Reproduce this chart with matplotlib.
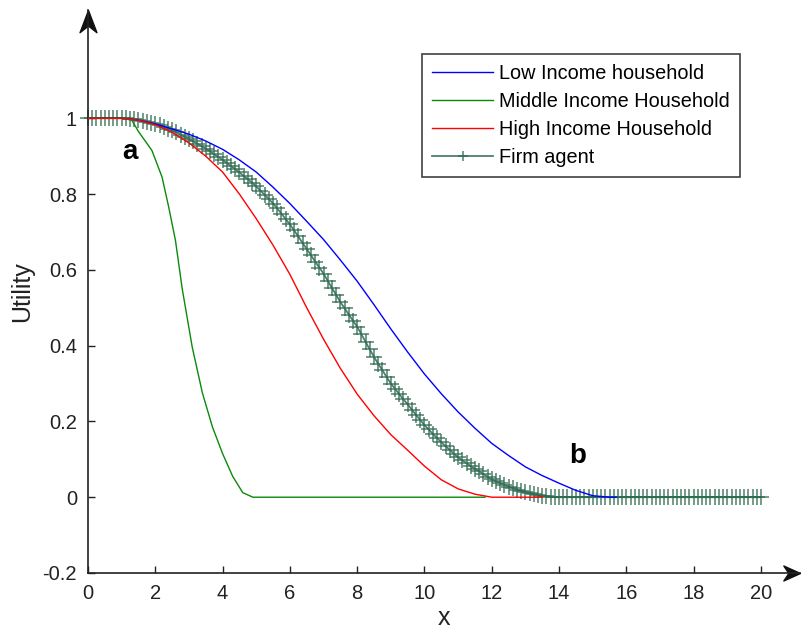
import numpy as np
import matplotlib

matplotlib.use("Agg")
import matplotlib.pyplot as plt

plt.rcParams["font.family"] = ["Liberation Sans", "DejaVu Sans"]

# ---- data -----------------------------------------------------------------
# Low income household (blue)
low_x = [0, 0.5, 1.0, 1.5, 2.0, 2.5, 3.0, 3.5, 4.0, 4.5, 5.0, 5.5, 6.0, 6.5,
         7.0, 7.5, 8.0, 8.5, 9.0, 9.5, 10.0, 10.5, 11.0, 11.5, 12.0, 12.5,
         13.0, 13.5, 14.0, 14.5, 15.0, 15.5, 15.7]
low_y = [1.0, 1.0, 1.0, 0.995, 0.985, 0.972, 0.958, 0.940, 0.918, 0.890,
         0.858, 0.818, 0.775, 0.728, 0.680, 0.626, 0.570, 0.508, 0.444,
         0.383, 0.325, 0.273, 0.225, 0.182, 0.142, 0.110, 0.080, 0.057,
         0.037, 0.018, 0.004, 0.0, 0.0]

# Middle income household (green)
mid_x = [0, 0.5, 1.0, 1.3, 1.5, 1.9, 2.2, 2.4, 2.6, 2.8, 3.1, 3.4, 3.7,
         4.0, 4.3, 4.6, 4.9, 6.0, 8.0, 10.0, 11.8]
mid_y = [1.0, 1.0, 1.0, 0.995, 0.965, 0.915, 0.845, 0.765, 0.677, 0.550,
         0.395, 0.275, 0.185, 0.115, 0.055, 0.012, 0.0, 0.0, 0.0, 0.0, 0.0]

# High income household (red)
high_x = [0, 0.5, 1.0, 1.5, 2.0, 2.5, 3.0, 3.5, 4.0, 4.5, 5.0, 5.5, 6.0,
          6.5, 7.0, 7.5, 8.0, 8.5, 9.0, 9.5, 10.0, 10.5, 11.0, 11.5, 12.0,
          12.5, 13.0, 13.5]
high_y = [1.0, 1.0, 1.0, 0.995, 0.983, 0.963, 0.935, 0.900, 0.858, 0.800,
          0.735, 0.665, 0.588, 0.500, 0.417, 0.340, 0.272, 0.215, 0.165,
          0.124, 0.082, 0.046, 0.022, 0.008, 0.0, 0.0, 0.0, 0.0]

# Firm agent (markers every 0.125 in x)
firm_x = np.arange(161) * 0.125
firm_y = [1.0, 1.0, 1.0, 1.0,
          1.0, 1.0, 1.0, 1.0,
          1.0, 1.0, 0.999, 0.998,
          0.996, 0.994, 0.991, 0.988,
          0.985, 0.981, 0.977, 0.973,
          0.968, 0.963, 0.957, 0.951,
          0.945, 0.939, 0.933, 0.926,
          0.920, 0.913, 0.905, 0.898,
          0.890, 0.882, 0.874, 0.866,
          0.857, 0.848, 0.839, 0.830,
          0.820, 0.809, 0.798, 0.787,
          0.775, 0.762, 0.748, 0.734,
          0.720, 0.704, 0.688, 0.671,
          0.655, 0.639, 0.622, 0.606,
          0.590, 0.571, 0.552, 0.534,
          0.515, 0.499, 0.482, 0.466,
          0.450, 0.430, 0.410, 0.390,
          0.370, 0.352, 0.335, 0.317,
          0.300, 0.286, 0.272, 0.258,
          0.245, 0.231, 0.217, 0.204,
          0.190, 0.179, 0.167, 0.156,
          0.145, 0.135, 0.125, 0.115,
          0.105, 0.097, 0.090, 0.082,
          0.075, 0.068, 0.061, 0.054,
          0.047, 0.042, 0.037, 0.033,
          0.028, 0.024, 0.020, 0.017,
          0.013, 0.010, 0.008, 0.006,
          0.004, 0.002, 0.001, 0.0] + [0.0] * 49

labels = ["Low Income household", "Middle Income Household",
          "High Income Household", "Firm agent"]
xticks = [0, 2, 4, 6, 8, 10, 12, 14, 16, 18, 20]
yticks = [-0.2, 0, 0.2, 0.4, 0.6, 0.8, 1]
ytick_labels = ["-0.2", "0", "0.2", "0.4", "0.6", "0.8", "1"]

# ---- figure ---------------------------------------------------------------
W, H = 801, 633
fig = plt.figure(figsize=(W / 100, H / 100), dpi=100)
ax = fig.add_axes([88 / W, (H - 573) / H, (800 - 88) / W, (573 - 10) / H])

FIRM = "#2f6a52"
ax.plot(firm_x, firm_y, color=FIRM, lw=1.3, marker="+", ms=12, mew=1.1,
        alpha=0.85, label=labels[3], clip_on=False, zorder=2)
ax.plot(low_x, low_y, color="#0000ff", lw=1.0, label=labels[0], zorder=3)
ax.plot(mid_x, mid_y, color="#0a8a0a", lw=1.0, label=labels[1], zorder=3)
ax.plot(high_x, high_y, color="#ff0000", lw=1.0, label=labels[2], zorder=3)

ax.set_xlim(0, 21.16)
ax.set_ylim(-0.2, 1.0 + 108 / 378)

ax.spines["top"].set_visible(False)
ax.spines["right"].set_visible(False)
for s in ("left", "bottom"):
    ax.spines[s].set_color("#222222")
    ax.spines[s].set_linewidth(1.2)

ax.set_xticks(xticks)
ax.set_xticklabels([str(t) for t in xticks])
ax.set_yticks(yticks)
ax.set_yticklabels(ytick_labels)
ax.tick_params(direction="in", length=5, width=1, colors="#222222",
               labelsize=14.5, labelcolor="#222222", pad=8)

ax.set_xlabel("x", fontsize=18, color="#222222", labelpad=2)
ax.set_ylabel("Utility", fontsize=18, color="#222222", labelpad=6)

# axis arrowheads
up = [(0, 0), (-0.38, -1), (0, -0.7), (0.38, -1), (0, 0)]
right = [(0, 0), (-1, 0.45), (-0.7, 0), (-1, -0.45), (0, 0)]
ax.plot([0], [1], marker=up, ms=32, color="#111111", transform=ax.transAxes,
        clip_on=False)
ax.plot([1], [0], marker=right, ms=24, color="#111111", transform=ax.transAxes,
        clip_on=False)

ax.text(1.25, 0.91, "a", fontsize=20, fontweight="bold", ha="center",
        va="center")
ax.text(14.55, 0.108, "b", fontsize=20, fontweight="bold", ha="center",
        va="center")

handles, labs = ax.get_legend_handles_labels()
order = [1, 2, 3, 0]
leg = ax.legend([handles[i] for i in order], [labs[i] for i in order],
                loc="upper left", bbox_to_anchor=(422 / W, 1 - 54 / H),
                bbox_transform=fig.transFigure, fontsize=14.3, frameon=True,
                fancybox=False, edgecolor="#111111", borderpad=0.5,
                handlelength=3.1, handletextpad=0.3, labelspacing=0.45,
                borderaxespad=0, markerscale=0.6)
leg.get_frame().set_linewidth(1.2)

fig.savefig("out.png", dpi=100)
